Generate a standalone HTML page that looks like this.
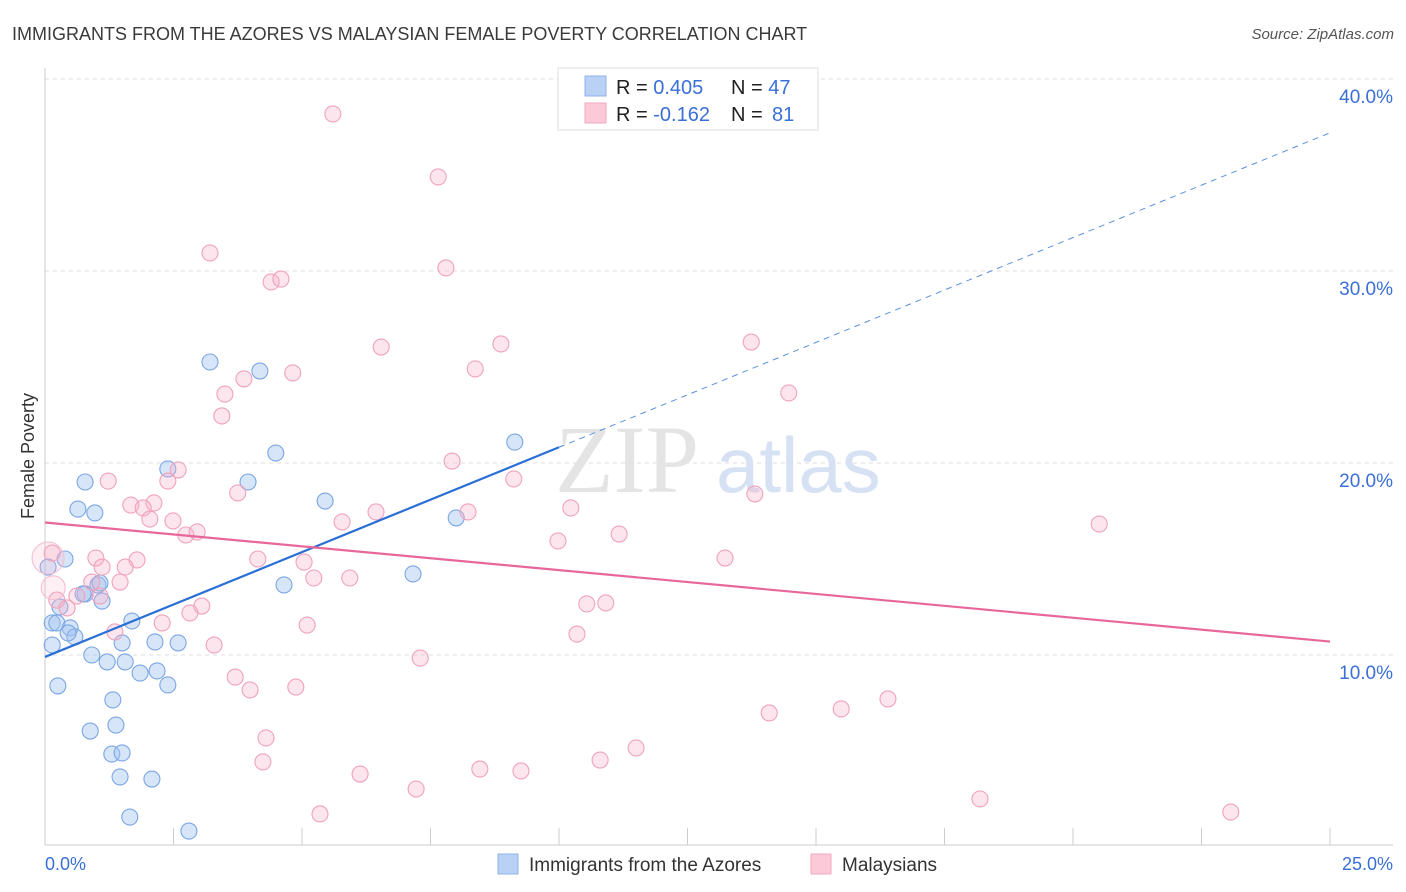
<!DOCTYPE html>
<html><head><meta charset="utf-8"><style>
body{margin:0;background:#fff;font-family:"Liberation Sans",sans-serif;}
svg{display:block}
</style></head><body>
<svg id="chart" width="1406" height="892">
<text x="12" y="40" font-size="18" fill="#3a3a3a">IMMIGRANTS FROM THE AZORES VS MALAYSIAN FEMALE POVERTY CORRELATION CHART</text>
<text x="1394" y="39" font-size="15" fill="#555" font-style="italic" text-anchor="end">Source: ZipAtlas.com</text>
<g id="grid"></g>
<text x="555" y="492" font-family="Liberation Serif,serif" font-size="96" fill="#e4e4e4">ZIP</text>
<text x="716" y="492" font-size="78" fill="#d6e2f4">atlas</text>
<g id="marks"></g>
<text transform="translate(34,456) rotate(-90)" font-size="18" fill="#333" text-anchor="middle">Female Poverty</text>
<text x="45" y="870" font-size="18" fill="#3a6fd8">0.0%</text>
<text x="1393" y="870" font-size="18" fill="#3a6fd8" text-anchor="end">25.0%</text>
<g>
<rect x="558" y="68" width="260" height="62" fill="#fff" stroke="#ddd"/>
<rect x="585" y="76" width="21" height="20" fill="#b9d1f5" stroke="#8fb2ea"/>
<rect x="585" y="103" width="21" height="20" fill="#fcc9d8" stroke="#f1a9c0"/>
<text x="616" y="94" font-size="20" fill="#222">R = <tspan fill="#3a6fd8">0.405</tspan><tspan x="731">N = </tspan><tspan fill="#3a6fd8">47</tspan></text>
<text x="616" y="121" font-size="20" fill="#222">R = <tspan fill="#3a6fd8">-0.162</tspan><tspan x="731">N = </tspan><tspan fill="#3a6fd8" x="772">81</tspan></text>
</g>
<g>
<rect x="498" y="854" width="20" height="20" fill="#b9d1f5" stroke="#8fb2ea"/>
<text x="529" y="871" font-size="19" fill="#333">Immigrants from the Azores</text>
<rect x="811" y="854" width="20" height="20" fill="#fcc9d8" stroke="#f1a9c0"/>
<text x="842" y="871" font-size="19" fill="#333">Malaysians</text>
</g>
</svg>
<script>
const yTicks=[10,20,30,40];
const yTickLabels=["10.0%","20.0%","30.0%","40.0%"];
const xTicks=[0,2.5,5,7.5,10,12.5,15,17.5,20,22.5,25];
const blueX=[3.21,4.18,4.49,2.39,3.95,0.78,5.45,0.64,0.97,8.00,9.14,0.39,0.06,7.16,4.65,1.03,0.78,1.11,0.29,1.69,0.14,0.23,0.49,0.58,0.45,0.14,1.50,2.14,2.59,0.91,1.21,1.56,1.85,2.18,2.39,0.25,1.32,0.88,1.38,1.30,1.50,1.46,2.08,1.65,2.80,0.74,1.07];
const blueY=[25.26,24.79,20.52,19.69,19.01,19.01,18.02,17.60,17.40,17.14,21.09,15.0,14.58,14.22,13.65,13.65,13.18,12.81,12.5,11.77,11.67,11.67,11.41,10.94,11.15,10.52,10.63,10.68,10.63,10.0,9.64,9.64,9.06,9.17,8.44,8.39,7.66,6.04,6.35,4.84,4.90,3.65,3.54,1.56,0.83,13.18,13.75];
const pinkX=[5.60,7.65,3.21,7.80,4.40,4.59,6.54,8.87,13.74,4.82,8.37,3.87,3.50,14.47,3.44,7.92,2.59,1.23,2.39,9.12,3.75,13.81,1.67,2.12,1.91,6.44,8.23,10.23,2.04,2.49,5.78,20.51,2.74,2.96,9.98,11.17,0.14,0.99,1.79,4.14,13.23,1.11,1.56,5.04,1.46,5.23,5.93,0.91,0.23,0.62,0.43,1.07,3.05,2.82,10.54,10.91,2.28,5.10,10.35,1.36,3.29,7.30,3.70,3.99,4.88,14.09,15.49,16.4,4.30,11.5,4.24,10.8,8.46,6.13,9.26,7.22,18.19,5.35,23.07,0.06,0.16];
const pinkY=[38.18,34.9,30.94,30.16,29.43,29.58,26.04,26.2,26.3,24.69,24.9,24.38,23.59,23.65,22.45,20.1,19.64,19.06,19.06,19.17,18.44,18.39,17.81,17.92,17.66,17.45,17.45,17.66,17.08,16.98,16.93,16.82,16.25,16.41,15.94,16.3,15.31,15.05,14.95,15.0,15.05,14.58,14.58,14.84,13.8,14.01,14.01,13.8,12.86,13.07,12.45,13.07,12.55,12.19,12.66,12.71,11.67,11.56,11.09,11.2,10.52,9.84,8.85,8.18,8.33,6.98,7.19,7.71,5.68,5.16,4.43,4.53,4.06,3.8,3.96,3.02,2.5,1.72,1.82,15.05,13.5];
const pinkBig=[79,80];
const blueTrend=[9.9,37.2];
const blueSolidEnd=10;
const pinkTrend=[16.9,10.7];
const ns="http://www.w3.org/2000/svg";
const sx=v=>45+v*51.4, sy=v=>847-v*19.2;
function mk(tag,attrs,parent){const e=document.createElementNS(ns,tag);for(const k in attrs)e.setAttribute(k,attrs[k]);parent.appendChild(e);return e;}
const grid=document.getElementById('grid'), marks=document.getElementById('marks');
yTicks.forEach((t,i)=>{
 const l=mk('line',{x1:45,x2:1393,y1:sy(t),y2:sy(t),stroke:'#ddd','stroke-dasharray':'4,4'},grid);
 
 
 const tx=mk('text',{x:1393,y:sy(t)+24,'font-size':19,fill:'#3a6fd8','text-anchor':'end'},grid);
 tx.textContent=yTickLabels[i];
 
 
});
const ax=mk('line',{x1:45,x2:1393,y1:845,y2:845,stroke:'#ccc'},grid);


const ay=mk('line',{x1:45,x2:45,y1:68,y2:845,stroke:'#ccc'},grid);


xTicks.forEach(t=>{
 const l=mk('line',{x1:sx(t),x2:sx(t),y1:828,y2:845,stroke:'#ccc'},grid);
 
 
});
blueX.forEach((x,i)=>{
 const c=mk('circle',{cx:sx(x),cy:sy(blueY[i]),r:8,fill:'rgba(160,192,240,0.42)',stroke:'#7aa6e4','stroke-width':1.1},marks);
 
 
});
pinkX.forEach((x,i)=>{
 const big=(i===pinkBig[0]||i===pinkBig[1]);
 const r=i===pinkBig[0]?16:(i===pinkBig[1]?12:8);
 const c=mk('circle',{cx:sx(x),cy:sy(pinkY[i]),r:r,fill:big?'rgba(248,175,200,0.2)':'rgba(248,175,200,0.32)',stroke:big?'#f4c0d0':'#efa2bb','stroke-width':1.1},marks);
 
 
});
const by=x=>blueTrend[0]+(blueTrend[1]-blueTrend[0])*x/25;
const b1=mk('line',{x1:sx(0),y1:sy(by(0)),x2:sx(blueSolidEnd),y2:sy(by(blueSolidEnd)),stroke:'#2a6fd6','stroke-width':2.2},marks);


const b2=mk('line',{x1:sx(blueSolidEnd),y1:sy(by(blueSolidEnd)),x2:sx(25),y2:sy(by(25)),stroke:'#5a8fe0','stroke-width':1,'stroke-dasharray':'6,5'},marks);


const p1=mk('line',{x1:sx(0),y1:sy(pinkTrend[0]),x2:sx(25),y2:sy(pinkTrend[1]),stroke:'#e8679a','stroke-width':2.2},marks);


</script>
</body></html>
